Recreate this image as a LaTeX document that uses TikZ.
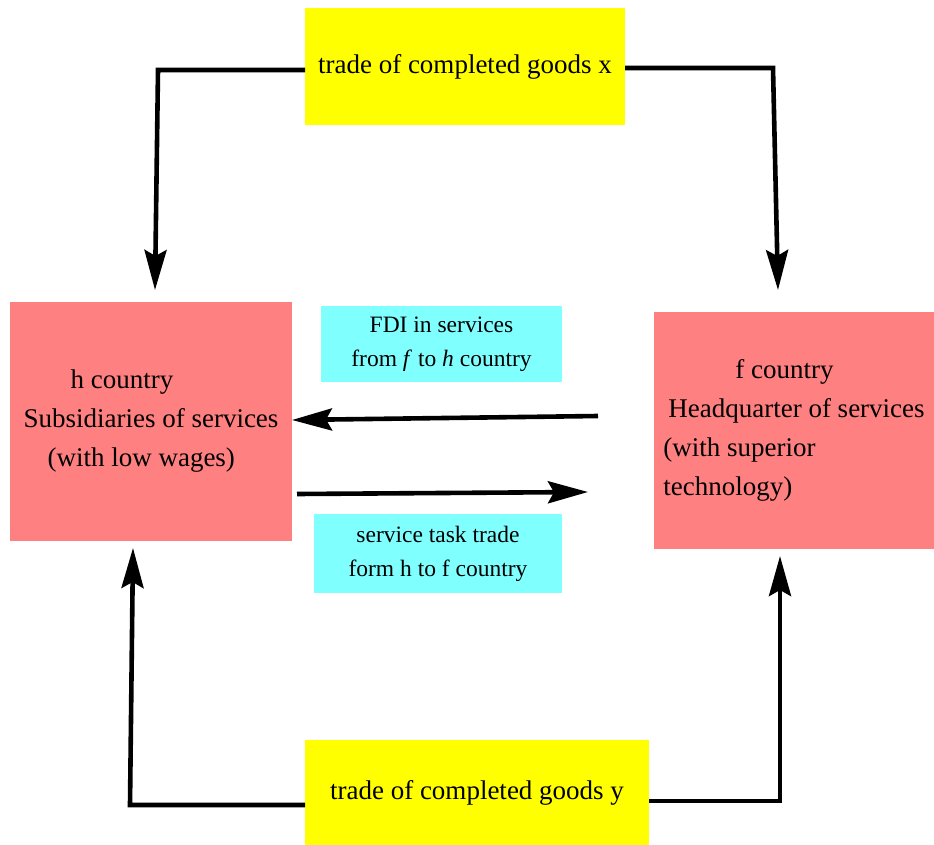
\documentclass[tikz,border=0pt]{standalone}
\usepackage{fontspec}
\setmainfont{Liberation Serif}
\usetikzlibrary{arrows.meta}
\definecolor{goodsfill}{HTML}{FFFF00}
\definecolor{landfill}{HTML}{FF8080}
\definecolor{flowfill}{HTML}{80FFFF}
\begin{document}
\begin{tikzpicture}[x=1pt,y=-1pt,line width=4.6pt,>={Stealth[length=40pt,width=22pt,inset=6pt]},
    box/.style={inner sep=0pt,outer sep=0pt,draw=none},
    goods/.style={box,fill=goodsfill,font=\fontsize{27}{39}\selectfont},
    land/.style={box,fill=landfill,align=left,font=\fontsize{27}{39}\selectfont},
    flow/.style={box,fill=flowfill,align=center,font=\fontsize{23.5}{34}\selectfont}]
    \useasboundingbox (0,0) rectangle (934,845);
    % boxes
    \node[goods,minimum width=320pt,minimum height=117pt] (gx) at (465,66.5) {trade of completed goods x};
    \node[goods,minimum width=344pt,minimum height=105pt] (gy) at (477,792.5) {trade of completed goods y};
    \node[land,minimum width=282pt,minimum height=239pt] (hc) at (151,421.5)
        {\hspace*{47pt}h country\\Subsidiaries of services\\\hspace*{24pt}(with low wages)};
    \node[land,minimum width=280pt,minimum height=237pt] (fc) at (794,430.5)
        {\hspace*{72pt}f country\\\hspace*{5pt}Headquarter of services\\(with superior\\technology)};
    \node[flow,minimum width=241pt,minimum height=76pt] (fdi) at (441.5,344)
        {FDI in services\\from \textit{f} to \textit{h} country};
    \node[flow,minimum width=248pt,minimum height=79pt] (task) at (438,553.5)
        {service task trade\\form h to f country};
    % corners and free ends
    \coordinate (gxl) at (158,70);  \coordinate (hin) at (155,290);
    \coordinate (gxr) at (773,68);  \coordinate (fin) at (778,290);
    \coordinate (gyl) at (130,805); \coordinate (hout) at (133,548);
    \coordinate (gyr) at (780,801); \coordinate (fout) at (780,556);
    \coordinate (fdiout) at (598,416); \coordinate (fdiin) at (293,420);
    \coordinate (taskout) at (297,494); \coordinate (taskin) at (588,492);
    % connectors
    \draw[->] (gx.west |- gxl) -- (gxl) -- (hin);
    \draw[->] (gx.east |- gxr) -- (gxr) -- (fin);
    \draw[->] (gy.west |- gyl) -- (gyl) -- (hout);
    \draw[->] (gy.east |- gyr) -- (gyr) -- (fout);
    \draw[->] (fdiout) -- (hc.east |- fdiin);
    \draw[->] (taskout) -- (taskin);
\end{tikzpicture}
\end{document}
